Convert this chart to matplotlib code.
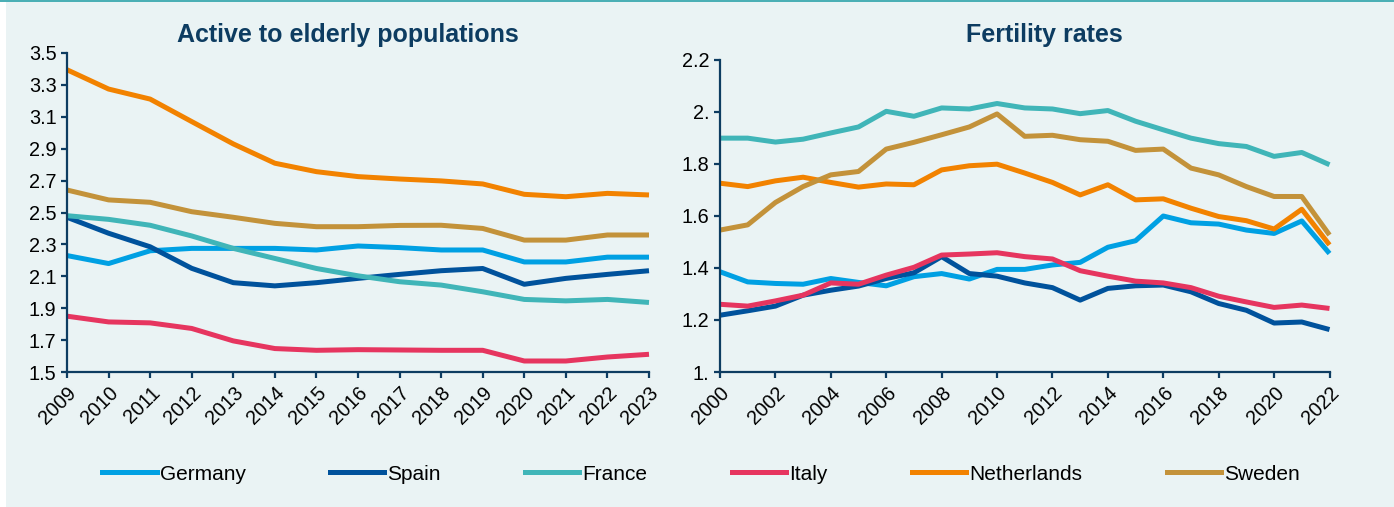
import matplotlib
matplotlib.use("Agg")
import matplotlib.pyplot as plt
from matplotlib.patches import Rectangle
from matplotlib.lines import Line2D
from matplotlib.ticker import FuncFormatter

plt.rcParams['font.family'] = ['Liberation Sans', 'DejaVu Sans']

countries = ["Germany", "Spain", "France", "Italy", "Netherlands", "Sweden"]
colors = ["#00A0E3", "#00529C", "#40B5B8", "#E6355F", "#F28200", "#C3923A"]

years_a = list(range(2009, 2024))
active_germany = [2.23, 2.18, 2.26, 2.275, 2.275, 2.275, 2.265, 2.29, 2.28, 2.265, 2.265, 2.19, 2.19, 2.22, 2.22]
active_spain = [2.47, 2.37, 2.285, 2.15, 2.06, 2.04, 2.06, 2.087, 2.112, 2.135, 2.149, 2.05, 2.087, 2.112, 2.135]
active_france = [2.48, 2.457, 2.42, 2.353, 2.275, 2.212, 2.149, 2.103, 2.066, 2.045, 2.003, 1.955, 1.946, 1.955, 1.936]
active_italy = [1.85, 1.814, 1.808, 1.773, 1.695, 1.647, 1.636, 1.64, 1.638, 1.636, 1.636, 1.569, 1.569, 1.594, 1.611]
active_netherlands = [3.395, 3.274, 3.211, 3.07, 2.93, 2.809, 2.756, 2.725, 2.71, 2.698, 2.679, 2.614, 2.599, 2.62, 2.61]
active_sweden = [2.641, 2.579, 2.564, 2.505, 2.47, 2.432, 2.411, 2.411, 2.419, 2.42, 2.40, 2.327, 2.327, 2.359, 2.359]
active_ticks = [1.5, 1.7, 1.9, 2.1, 2.3, 2.5, 2.7, 2.9, 3.1, 3.3, 3.5]

years_f = list(range(2000, 2023))
fert_germany = [1.385, 1.346, 1.340, 1.337, 1.359, 1.344, 1.331, 1.366, 1.378, 1.357, 1.394, 1.394, 1.411, 1.421, 1.479, 1.504, 1.599, 1.573, 1.568, 1.545, 1.532, 1.58, 1.455]
fert_spain = [1.218, 1.235, 1.253, 1.295, 1.314, 1.330, 1.359, 1.381, 1.443, 1.378, 1.368, 1.342, 1.324, 1.276, 1.321, 1.331, 1.334, 1.308, 1.263, 1.237, 1.188, 1.192, 1.163]
fert_france = [1.898, 1.898, 1.883, 1.894, 1.918, 1.941, 2.001, 1.982, 2.014, 2.01, 2.031, 2.014, 2.01, 1.992, 2.004, 1.963, 1.93, 1.898, 1.877, 1.866, 1.828, 1.843, 1.796]
fert_italy = [1.26, 1.253, 1.273, 1.295, 1.342, 1.337, 1.372, 1.402, 1.449, 1.453, 1.458, 1.443, 1.434, 1.389, 1.368, 1.349, 1.342, 1.324, 1.291, 1.269, 1.248, 1.257, 1.244]
fert_netherlands = [1.725, 1.712, 1.734, 1.748, 1.728, 1.71, 1.722, 1.719, 1.776, 1.792, 1.798, 1.764, 1.728, 1.68, 1.719, 1.661, 1.665, 1.629, 1.597, 1.581, 1.549, 1.625, 1.488]
fert_sweden = [1.545, 1.565, 1.651, 1.712, 1.757, 1.77, 1.856, 1.882, 1.911, 1.941, 1.991, 1.905, 1.909, 1.892, 1.886, 1.851, 1.856, 1.783, 1.757, 1.712, 1.674, 1.674, 1.526]
fert_ticks = [1.0, 1.2, 1.4, 1.6, 1.8, 2.0, 2.2]

active = [active_germany, active_spain, active_france, active_italy, active_netherlands, active_sweden]
fert = [fert_germany, fert_spain, fert_france, fert_italy, fert_netherlands, fert_sweden]

W, H = 1394, 507
BG = "#EAF3F4"
NAVY = "#0D3C61"
fig = plt.figure(figsize=(W / 100, H / 100), dpi=100, facecolor="white")
fig.patches.append(Rectangle((6 / W, 0), 1 - 6 / W, 1 - 2 / H, transform=fig.transFigure,
                             facecolor=BG, edgecolor="none", zorder=-10))
fig.patches.append(Rectangle((0, 1 - 2 / H), 1, 2 / H, transform=fig.transFigure,
                             facecolor="#4BAFB5", edgecolor="none", zorder=-9))

def fx(px):
    return px / W

def fy(py):
    return 1 - py / H

ax1 = fig.add_axes([fx(67), fy(372), fx(649) - fx(67), fy(53) - fy(372)])
ax2 = fig.add_axes([fx(720), fy(372), fx(1329.5) - fx(720), fy(59.5) - fy(372)])

lw = 3.6
for vals, c in zip(active, colors):
    ax1.plot(years_a, vals, color=c, lw=lw, solid_capstyle="butt")
for vals, c in zip(fert, colors):
    ax2.plot(years_f, vals, color=c, lw=lw, solid_capstyle="butt")

ax1.set_xlim(2009, 2023)
ax1.set_ylim(1.5, 3.5)
ax1.set_xticks(years_a)
ax1.set_yticks(active_ticks)
ax1.yaxis.set_major_formatter(FuncFormatter(lambda v, p: f"{v:.1f}"))

ax2.set_xlim(2000, 2022)
ax2.set_ylim(1.0, 2.2)
ax2.set_xticks(list(range(2000, 2023, 2)))
ax2.set_yticks(fert_ticks)

def ffmt(v, p):
    s = f"{v:.1f}"
    if s.endswith(".0"):
        s = s[:-1]
    return s

ax2.yaxis.set_major_formatter(FuncFormatter(ffmt))

for ax in (ax1, ax2):
    ax.set_facecolor("none")
    for s in ("top", "right"):
        ax.spines[s].set_visible(False)
    for s in ("left", "bottom"):
        ax.spines[s].set_color(NAVY)
        ax.spines[s].set_linewidth(1.6)
    ax.tick_params(axis="both", direction="out", length=4.5, width=1.6, color=NAVY,
                   labelsize=14.3, labelcolor="black")
    ax.tick_params(axis="y", pad=3)
    for lab in ax.get_xticklabels():
        lab.set_rotation(45)
        lab.set_ha("right")
        lab.set_va("top")
        lab.set_rotation_mode("anchor")
    for line in ax.get_lines():
        line.set_clip_on(False)

fig.text(fx(348), fy(35), "Active to elderly populations", ha="center", va="center",
         fontsize=18, fontweight="bold", color=NAVY)
fig.text(fx(1044), fy(35), "Fertility rates", ha="center", va="center",
         fontsize=18, fontweight="bold", color=NAVY)

handles = [Line2D([], [], color=c, lw=lw) for c in colors]
fig.legend(handles, countries, loc="center", bbox_to_anchor=(fx(701), fy(474)), ncol=6,
           frameon=False, fontsize=15, handlelength=2.6, handletextpad=0.15,
           columnspacing=4.05)

fig.savefig("out.png", dpi=100, facecolor=fig.get_facecolor())
